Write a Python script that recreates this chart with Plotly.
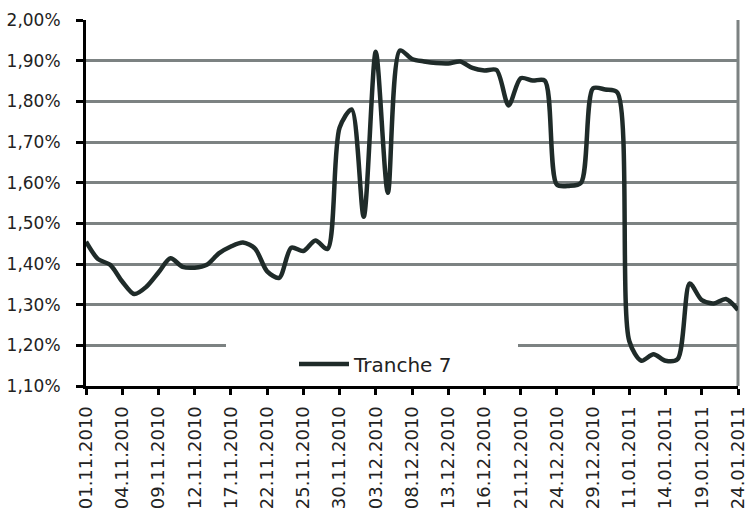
import plotly.graph_objects as go

# Trading days covered by the series
dates = [
    "01.11.2010", "02.11.2010", "03.11.2010", "04.11.2010", "05.11.2010",
    "08.11.2010", "09.11.2010", "10.11.2010", "11.11.2010", "12.11.2010",
    "15.11.2010", "16.11.2010", "17.11.2010", "18.11.2010", "19.11.2010",
    "22.11.2010", "23.11.2010", "24.11.2010", "25.11.2010", "26.11.2010",
    "29.11.2010", "30.11.2010", "01.12.2010", "02.12.2010", "03.12.2010",
    "06.12.2010", "07.12.2010", "08.12.2010", "09.12.2010", "10.12.2010",
    "13.12.2010", "14.12.2010", "15.12.2010", "16.12.2010", "17.12.2010",
    "20.12.2010", "21.12.2010", "22.12.2010", "23.12.2010", "24.12.2010",
    "27.12.2010", "28.12.2010", "29.12.2010", "30.12.2010", "10.01.2011",
    "11.01.2011", "12.01.2011", "13.01.2011", "14.01.2011", "17.01.2011",
    "18.01.2011", "19.01.2011", "20.01.2011", "21.01.2011", "24.01.2011",
]

# Tranche 7 rate in percent
tranche7 = [
    1.455, 1.412, 1.398, 1.357, 1.326, 1.344, 1.379, 1.414, 1.393, 1.391,
    1.398, 1.426, 1.443, 1.453, 1.438, 1.382, 1.366, 1.440, 1.432, 1.458,
    1.437, 1.735, 1.780, 1.516, 1.922, 1.575, 1.925, 1.904, 1.898, 1.894,
    1.893, 1.898, 1.882, 1.876, 1.877, 1.790, 1.857, 1.851, 1.851, 1.595,
    1.592, 1.600, 1.832, 1.829, 1.822, 1.210, 1.162, 1.178, 1.162, 1.166,
    1.352, 1.311, 1.303, 1.314, 1.287,
]

# Every third trading day is labelled
tick_dates = dates[::3]
y_ticks = [1.10, 1.20, 1.30, 1.40, 1.50, 1.60, 1.70, 1.80, 1.90, 2.00]
y_tick_labels = ["1,10%", "1,20%", "1,30%", "1,40%", "1,50%",
                 "1,60%", "1,70%", "1,80%", "1,90%", "2,00%"]

line_color = "#1f2b29"
grid_color = "#7c8282"
text_color = "#222222"
font_family = "DejaVu Sans"

fig = go.Figure()
fig.add_trace(go.Scatter(
    x=dates, y=tranche7, name="Tranche 7", mode="lines",
    line=dict(color=line_color, width=4.5, shape="spline", smoothing=0.8),
))

fig.update_layout(
    width=750, height=508,
    margin=dict(l=86, r=12, t=20, b=122),
    paper_bgcolor="white", plot_bgcolor="white",
    font=dict(family=font_family, color=text_color),
    showlegend=True,
    legend=dict(
        x=(294 - 86) / 652, y=(386 - 364) / 366, xanchor="left", yanchor="middle",
        bgcolor="rgba(0,0,0,0)", borderwidth=0,
        font=dict(size=20, family=font_family, color=text_color),
        itemwidth=50,
    ),
)

fig.update_xaxes(
    type="category", range=[0, len(dates) - 1], automargin=False,
    tickmode="array", tickvals=tick_dates, ticktext=tick_dates,
    tickangle=-90, tickfont=dict(size=18, family=font_family, color=text_color),
    ticks="outside", ticklen=6, tickwidth=3, tickcolor="black",
    showline=True, linecolor="black", linewidth=3,
    showgrid=False, zeroline=False, ticklabelstandoff=4,
)

fig.update_yaxes(
    range=[1.10, 2.00], automargin=False,
    tickmode="array", tickvals=y_ticks, ticktext=y_tick_labels,
    tickfont=dict(size=17, family=font_family, color=text_color),
    ticks="outside", ticklen=7, tickwidth=3, tickcolor="black",
    showline=True, linecolor="black", linewidth=3,
    showgrid=True, gridcolor=grid_color, gridwidth=3,
    zeroline=False, ticklabelstandoff=12,
)

# Clear band behind the legend and the right-hand plot border
fig.add_shape(type="rect", xref="paper", yref="y",
              x0=(226 - 86) / 652, x1=(518 - 86) / 652, y0=1.13, y1=1.25,
              fillcolor="white", line=dict(width=0), layer="above")
fig.add_shape(type="line", xref="paper", yref="paper",
              x0=1, x1=1, y0=0, y1=1,
              line=dict(color=grid_color, width=3), layer="below")

fig.write_html("out.html")
